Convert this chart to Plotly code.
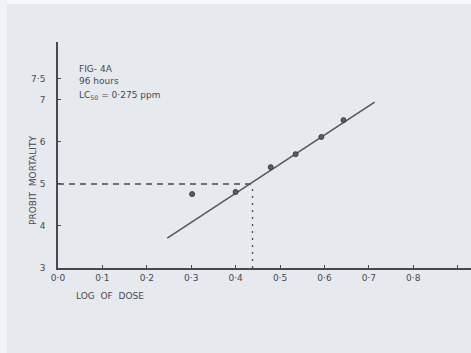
import plotly.graph_objects as go

# Data
dose_x = [0.302, 0.400, 0.479, 0.535, 0.593, 0.643]
probit_y = [4.76, 4.81, 5.40, 5.71, 6.12, 6.52]
fit_x = [0.246, 0.713]
fit_y = [3.71, 6.95]
lc50_x = 0.438
lc50_y = 5.0

x_tickvals = [0.0, 0.1, 0.2, 0.3, 0.4, 0.5, 0.6, 0.7, 0.8]
x_ticktext = ["0·0", "0·1", "0·2", "0·3", "0·4", "0·5", "0·6", "0·7", "0·8"]
y_tickvals = [3, 4, 5, 6, 7, 7.5]
y_ticktext = ["3", "4", "5", "6", "7", "7·5"]

ink = "#46494e"
font = dict(family="DejaVu Sans", size=9, color=ink)

fig = go.Figure()

# dashed reference at probit 5
fig.add_trace(go.Scatter(x=[0, lc50_x], y=[lc50_y, lc50_y], mode="lines",
                         line=dict(color=ink, width=1.3, dash="6px,5px"),
                         hoverinfo="skip", showlegend=False))
fig.add_trace(go.Scatter(x=[lc50_x, lc50_x], y=[3, lc50_y], mode="lines",
                         line=dict(color=ink, width=1.3, dash="2px,5px"),
                         hoverinfo="skip", showlegend=False))
# fitted line
fig.add_trace(go.Scatter(x=fit_x, y=fit_y, mode="lines",
                         line=dict(color="#55585d", width=1.6),
                         showlegend=False))
# observed points
fig.add_trace(go.Scatter(x=dose_x, y=probit_y, mode="markers",
                         marker=dict(size=5, color="#5a5d62",
                                     line=dict(color="#3a3d42", width=1)),
                         showlegend=False))

fig.update_xaxes(range=[0, 0.930], tickvals=x_tickvals, ticktext=x_ticktext,
                 showgrid=False, zeroline=False, showline=True,
                 linecolor=ink, linewidth=1.5, ticks="inside", ticklen=3,
                 tickcolor=ink, tickfont=font,
                 minor=dict(ticks="inside", ticklen=3, tick0=0, dtick=0.1,
                            tickcolor=ink, showgrid=False))
fig.update_yaxes(range=[3, 8.38], tickvals=y_tickvals, ticktext=y_ticktext,
                 showgrid=False, zeroline=False, showline=True,
                 linecolor=ink, linewidth=1.5, ticks="inside", ticklen=3,
                 tickcolor=ink, tickfont=font, ticklabelstandoff=9)

W, H = 471, 353
anns = [
    dict(text="FIG- 4A", x=77, y=69),
    dict(text="96 hours", x=77, y=81),
    dict(text="LC<sub>50</sub> = 0·275 ppm", x=77, y=95),
]
annotations = []
for a in anns:
    annotations.append(dict(text=a["text"], xref="paper", yref="paper",
                            x=(a["x"] - 58) / (W - 58),
                            y=1 - (a["y"] - 42) / (268 - 42),
                            xanchor="left", yanchor="middle",
                            showarrow=False, font=font))
annotations.append(dict(text="LOG  OF  DOSE", xref="paper", yref="paper",
                        x=(110 - 58) / (W - 58), y=1 - (296 - 42) / (268 - 42),
                        xanchor="center", yanchor="middle", showarrow=False,
                        font=font))
annotations.append(dict(text="PROBIT  MORTALITY", xref="paper", yref="paper",
                        x=(33 - 58) / (W - 58), y=1 - (181 - 42) / (268 - 42),
                        xanchor="center", yanchor="middle", textangle=-90,
                        showarrow=False, font=font))

# light photo border strips (top and left)
def px_x(p):
    return (p - 58) / (W - 58)

def px_y(p):
    return 1 - (p - 42) / (268 - 42)

shapes = [
    dict(type="rect", xref="paper", yref="paper", layer="below",
         x0=px_x(0), x1=px_x(W), y0=px_y(0), y1=px_y(4),
         line=dict(width=0), fillcolor="#f6f7f9"),
    dict(type="rect", xref="paper", yref="paper", layer="below",
         x0=px_x(0), x1=px_x(7), y0=px_y(0), y1=px_y(H),
         line=dict(width=0), fillcolor="#f2f3f6"),
]

fig.update_layout(width=W, height=H, margin=dict(l=58, r=0, t=42, b=85),
                  paper_bgcolor="#e6e9ee", plot_bgcolor="rgba(0,0,0,0)",
                  annotations=annotations, shapes=shapes, showlegend=False)

fig.write_html("out.html")
